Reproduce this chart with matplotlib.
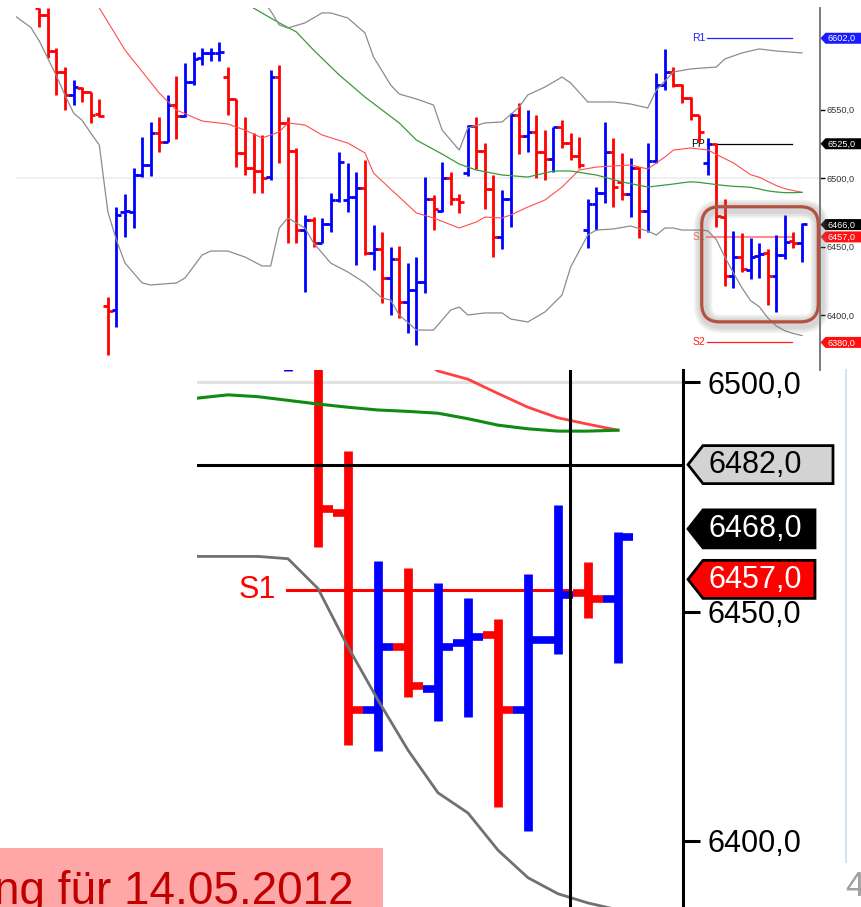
import matplotlib
matplotlib.use("Agg")
import matplotlib.pyplot as plt
from matplotlib.patches import Polygon, FancyBboxPatch, Rectangle

plt.rcParams['font.family'] = ['Liberation Sans', 'DejaVu Sans']

# ---- OHLC bars (index 0..89) ----
opens = [6624, 6619, 6592.7, 6577.4, 6560.6, 6565.7, 6562.8, 6546.5, 6406.6, 6403.6,
         6475.5, 6475.2, 6502.2, 6509.5, 6532.9, 6526.3, 6553.3, 6545.3, 6570, 6587.6,
         6591.3, 6591.5, 6573.7, 6557.7, 6518.3, 6507.3, 6505.1, 6500.7, 6573.7, 6540.2,
         6519.7, 6462, 6469.3, 6452.6, 6466.4, 6483.9, 6483.9, 6486.1, 6492.7, 6445.2,
         6448.2, 6427, 6440.9, 6409.5, 6418.2, 6424.1, 6484.7, 6475.9, 6500, 6484.7,
         6503.6, 6538, 6519.7, 6492, 6456.9, 6484.7, 6546, 6530.7, 6533.6, 6519,
         6513.9, 6537.2, 6525.5, 6516.1, 6462, 6481, 6489, 6519, 6497.1, 6488.3,
         6507.3, 6475.9, 6512.4, 6567.9, 6577.4, 6567.9, 6558.4, 6546, 6511, 6525,
         6471.5, 6428.5, 6442.3, 6433.1, 6443.1, 6444.9, 6428.5, 6443.8, 6454, 6452.7]
highs = [6624, 6624, 6595, 6581, 6571.5, 6566.4, 6562.8, 6557.7, 6413.1, 6478.8,
         6488.3, 6507.3, 6529.9, 6540.9, 6544.5, 6560.6, 6574.5, 6584, 6592, 6594.9,
         6594.9, 6599.3, 6581, 6557.7, 6544.5, 6532.9, 6531.4, 6578.8, 6582.5, 6544.5,
         6521.9, 6473, 6471.5, 6470.8, 6489, 6519, 6511, 6504.4, 6513.1, 6465.7,
         6460.6, 6449.6, 6450.4, 6438, 6442.3, 6500.7, 6487.6, 6511.7, 6504.4, 6488.3,
         6538.7, 6544.5, 6525.5, 6502.2, 6491.2, 6547.5, 6554.8, 6549.6, 6546, 6535,
         6537.2, 6542.3, 6532.9, 6529.9, 6484.7, 6493.4, 6540.9, 6529.2, 6518.3, 6514.6,
         6508, 6525.5, 6576.7, 6594.2, 6581, 6568.6, 6559.1, 6546, 6529.2, 6525.5,
         6485, 6461, 6459.5, 6456.2, 6452.9, 6448.4, 6458.2, 6473.2, 6460.8, 6467.3]
lows = [6610, 6587.6, 6560.6, 6549.6, 6553.3, 6555.5, 6540.2, 6544.5, 6370.8, 6391.2,
        6456.9, 6463.5, 6500.7, 6501.5, 6519, 6526.3, 6528.5, 6544.5, 6567.9, 6582.5,
        6585.4, 6585.4, 6546, 6508, 6502.2, 6489, 6489, 6498.5, 6511, 6452.6,
        6452.6, 6416.8, 6449.6, 6452.6, 6460.6, 6482.5, 6475.2, 6436.4, 6443.8, 6432.8,
        6408.8, 6400, 6397.8, 6386.9, 6378.1, 6416.1, 6462, 6475.2, 6480.3, 6474.5,
        6501.5, 6506.6, 6477.4, 6442.3, 6448.2, 6464.2, 6517.5, 6519, 6500, 6498.5,
        6504.4, 6521.9, 6513.1, 6507.3, 6448.9, 6462, 6481.7, 6478.8, 6483.9, 6471.5,
        6456.2, 6460.6, 6511, 6564.3, 6566.4, 6554.8, 6542.3, 6526.3, 6502.5, 6464,
        6421, 6419.5, 6431.4, 6426.1, 6427, 6407.4, 6402.2, 6440.7, 6448.6, 6438.8]
closes = [6619, 6592.7, 6577.4, 6560.6, 6566.4, 6562.8, 6546, 6545, 6402.9, 6473,
          6476, 6502.2, 6509.5, 6532.9, 6526.3, 6553.3, 6545.3, 6570, 6586.9, 6591.3,
          6591.5, 6591.8, 6557.7, 6518.3, 6507.3, 6505.1, 6500, 6573.7, 6540.2, 6519.7,
          6462, 6469.3, 6452.6, 6466.4, 6483.9, 6511.7, 6486.1, 6492.7, 6445.2, 6448.2,
          6427, 6440.9, 6409.5, 6418.2, 6424.1, 6484.7, 6477.4, 6500, 6484.7, 6482.5,
          6538, 6519.7, 6492, 6456.9, 6484.7, 6546, 6530.7, 6533.6, 6519, 6513.9,
          6537.2, 6525.5, 6516.1, 6509.5, 6481, 6489, 6519, 6493.4, 6488.3, 6507.3,
          6475.9, 6512.4, 6567.9, 6577.4, 6567.9, 6558.4, 6546, 6533.6, 6525, 6472.3,
          6428.5, 6442.3, 6433.8, 6442.3, 6444.4, 6428.5, 6443.8, 6453.6, 6452.7, 6466.2]

# ---- indicators (bar index, value) ----
red_ma_idx = [6, 7, 10, 14, 16, 19, 22, 24, 26, 28, 29, 31, 33, 36, 38, 39, 42, 44, 46, 49,
              51, 52, 54, 55, 57, 59, 61, 63, 65, 67, 69, 71, 73, 74, 76, 78, 81, 83, 84, 85,
              86, 87, 88, 89]
red_ma = [6640, 6624.1, 6593.4, 6562, 6549.6, 6541.6, 6539.4, 6535, 6529.2, 6533.6, 6540.2,
          6538.7, 6531.4, 6525.5, 6518.3, 6503.6, 6486.1, 6474.5, 6470.8, 6463.5, 6467.9,
          6471.5, 6470.8, 6473, 6478.8, 6483.9, 6493.4, 6505.8, 6508, 6508.8, 6509.5,
          6506.6, 6515.3, 6520.4, 6521.9, 6520.4, 6511, 6502.4, 6500.6, 6497.5, 6494.5,
          6492.2, 6490.8, 6489.5]
green_ma_idx = [24, 25, 28, 30, 32, 35, 38, 42, 44, 47, 49, 51, 54, 57, 60, 62, 65, 68, 71,
                74, 75, 76, 77, 78, 79, 80, 81, 82, 83, 84, 85, 86, 87, 88, 89]
green_ma = [6635, 6624, 6613.2, 6606.6, 6593.4, 6575.2, 6559.1, 6540.2, 6527.7, 6517.5,
            6510.2, 6505.8, 6502.2, 6500.7, 6505.1, 6505.1, 6502.2, 6497.1, 6493.4, 6495.6,
            6496.5, 6497.2, 6496.8, 6496, 6495.2, 6494.5, 6493.9, 6493.6, 6493.2, 6492,
            6490.6, 6489.8, 6489.3, 6489.3, 6489.5]
upper_idx = [26, 27, 28, 29, 31, 33, 34, 36, 38, 39, 41, 42, 44, 46, 47, 49, 50, 52, 54, 56,
             57, 59, 61, 62, 64, 67, 69, 71, 72, 74, 76, 79, 80, 82, 84, 86, 89]
upper = [6630, 6622, 6611.7, 6609.5, 6613.2, 6620.5, 6620.5, 6616.8, 6605.9, 6588.3,
         6567.9, 6561.3, 6557.7, 6553.3, 6535, 6520.4, 6536.5, 6540.2, 6540.9, 6551.8,
         6560.6, 6566.4, 6573.7, 6569.4, 6555.5, 6555.5, 6554, 6551.1, 6564.2, 6577.4,
         6579.6, 6581, 6586.9, 6591.3, 6594.2, 6592.7, 6591.3]
lower_idx = [-3, -1, 0, 2, 3, 4, 5, 6, 7, 8, 9, 10, 12, 13, 16, 17, 19, 20, 22, 24, 26, 27,
             28, 29, 31, 32, 34, 36, 38, 40, 41, 42, 44, 46, 48, 49, 50, 52, 54, 55, 57, 59,
             61, 62, 64, 65, 67, 69, 71, 72, 73, 74, 75, 76, 77, 78, 79, 80, 81, 82, 83, 84,
             85, 86, 87, 88, 89]
lower = [6619, 6610, 6600, 6574.5, 6560.4, 6547.4, 6542, 6532.9, 6524.1, 6475.2, 6454.7,
         6437.9, 6423.4, 6421.9, 6423.4, 6427, 6443.8, 6446.7, 6446.7, 6442.3, 6435.8,
         6435.8, 6463.5, 6470.8, 6463.5, 6452.6, 6437.9, 6431.4, 6423.4, 6412.4, 6410.9,
         6400, 6389, 6389, 6403.6, 6405.8, 6400, 6401.5, 6401.5, 6397.1, 6394.9, 6402.2,
         6414.6, 6435, 6458.4, 6462, 6462.8, 6465, 6461.3, 6458.4, 6463.5, 6463.5, 6462,
         6462, 6462, 6461.5, 6455, 6442.3, 6430.7, 6419.8, 6410.5, 6406.1, 6398, 6392,
         6388.5, 6386.5, 6385]

# pivot levels
pivot_names = ['R1', 'PP', 'S1', 'S2']
pivot_values = [6602, 6525, 6457, 6380]
pivot_colors = ['#2020ff', '#000000', '#ff6060', '#ff2020']
top_tag_values = [6602, 6525, 6466, 6457, 6380]
top_tag_colors = ['#1a1aff', '#000000', '#000000', '#ff1010', '#ff1010']
zoom_tag_values = [6482, 6468, 6457]
zoom_tag_faces = ['#d3d3d3', '#000000', '#ff0000']
zoom_tag_text = ['#000000', '#ffffff', '#ffffff']
zoom_s1_drawn = 6454.7
cursor_idx, cursor_price = 87.4, 6482

RED, BLUE = '#ff0000', '#0000ff'
W, H = 861, 907


def comma(v):
    return f"{v:.1f}".replace('.', ',')


fig = plt.figure(figsize=(W / 100, H / 100), dpi=100)


def px_axes(left, top, right, bottom, **kw):
    return fig.add_axes([left / W, 1 - bottom / H, (right - left) / W, (bottom - top) / H], **kw)


ax = px_axes(16, 8, 820, 370, zorder=1)
ax2 = px_axes(197, 370, 683, 907, zorder=2)
ov = fig.add_axes([0, 0, 1, 1], zorder=3)
ov.set_xlim(0, W)
ov.set_ylim(H, 0)
ov.axis('off')
ov.patch.set_alpha(0)

ax.set_xlim(-2.72, 91.1)
ax.set_ylim(6500 - 192 / 1.37, 6500 + 170 / 1.37)
ax2.set_xlim(74.967, 91.167)
ax2.set_ylim(6500 - 525 / 4.59, 6500 + 12 / 4.59)


def draw_bars(a, lw_bar, lw_tick, tick):
    for i, (o, h, l, c) in enumerate(zip(opens, highs, lows, closes)):
        col = BLUE if c >= o else RED
        a.plot([i, i], [l, h], color=col, lw=lw_bar, solid_capstyle='butt', zorder=2)
        a.plot([i - tick, i], [o, o], color=col, lw=lw_tick, solid_capstyle='butt', zorder=2)
        a.plot([i, i + tick], [c, c], color=col, lw=lw_tick, solid_capstyle='butt', zorder=2)


# ---------- top chart ----------
for s in ['top', 'left', 'bottom']:
    ax.spines[s].set_visible(False)
ax.spines['right'].set_color('#707070')
ax.spines['right'].set_linewidth(1.3)
ax.set_xticks([])
ax.yaxis.tick_right()
ax.set_yticks([6400, 6450, 6500, 6550])
ax.set_yticklabels([comma(v) for v in [6400, 6450, 6500, 6550]])
ax.tick_params(axis='y', length=3.5, width=1, pad=1.2, labelsize=6.6, labelcolor='#333333')
ax.axhline(6500, color='#ececec', lw=1.2, zorder=0)

draw_bars(ax, 2.0, 2.0, 0.55)
ax.plot(red_ma_idx, red_ma, color='#ff4d4d', lw=0.8, zorder=3)
ax.plot(green_ma_idx, green_ma, color='#3a9a3a', lw=0.9, zorder=3)
ax.plot(upper_idx, upper, color='#8c8c8c', lw=0.9, zorder=3)
ax.plot(lower_idx, lower, color='#8c8c8c', lw=0.9, zorder=3)

for name, val, col in zip(pivot_names, pivot_values, pivot_colors):
    ax.plot([77.9, 87.8], [val, val], color=col, lw=1.5 if name == 'S1' else 0.9,
            alpha=0.7 if name == 'S1' else 1, zorder=1.5)
    ax.text(77.7, val, name, color=col, fontsize=7.5, ha='right', va='center', zorder=1.5)

# ---------- zoomed chart ----------
ax2.set_facecolor('white')
for s in ['top', 'left', 'bottom']:
    ax2.spines[s].set_visible(False)
ax2.spines['right'].set_color('black')
ax2.spines['right'].set_linewidth(2.2)
ax2.set_xticks([])
ax2.yaxis.tick_right()
ax2.set_yticks([6400, 6450, 6500])
ax2.set_yticklabels([comma(v) for v in [6400, 6450, 6500]])
ax2.tick_params(axis='y', length=12, width=2.2, pad=5.5, labelsize=22, labelcolor='black')
ax2.axhline(6500, color='#e2e2e2', lw=2.3, zorder=0)

draw_bars(ax2, 6.3, 5.5, 0.5)
ax2.plot(red_ma_idx, red_ma, color='#ff2020', lw=2.0, alpha=0.85, zorder=3)
ax2.plot(green_ma_idx, green_ma, color='#108a10', lw=2.2, zorder=3)
ax2.plot(lower_idx, lower, color='#707070', lw=2.0, zorder=3)

ax2.plot([77.97, cursor_idx], [zoom_s1_drawn, zoom_s1_drawn], color='red', lw=2.2, zorder=1.5)
ax2.text(77.6, zoom_s1_drawn, 'S1', color='red', fontsize=22, ha='right', va='center')
ax2.axhline(cursor_price, color='black', lw=2.2, zorder=5)
ax2.axvline(cursor_idx, color='black', lw=2.2, zorder=5)


# ---------- overlay: tags, box, slide bits ----------
def py(a, v):
    return H - a.transData.transform((0, v))[1]


def px(a, i):
    return a.transData.transform((i, 0))[0]


def tag(x0, y, w, h, head, face, label, tcol, fs, edge=None, lw=0.0, tx=7):
    pts = [(x0, y), (x0 + head, y - h / 2), (x0 + w, y - h / 2), (x0 + w, y + h / 2),
           (x0 + head, y + h / 2)]
    ov.add_patch(Polygon(pts, closed=True, fc=face, ec=edge or face, lw=lw, zorder=4))
    ov.text(x0 + tx, y + 0.5, label, color=tcol, fontsize=fs, ha='left', va='center', zorder=5)


for v, col in zip(top_tag_values, top_tag_colors):
    tag(820.5, py(ax, v), 42, 11, 5, col, comma(v), 'white', 6.6, tx=7)

for v, fc, tc, w in zip(zoom_tag_values, zoom_tag_faces, zoom_tag_text, [145, 127, 127]):
    tag(688, py(ax2, v), w, 38, 15, fc, comma(v), tc, 22, edge='black', lw=2, tx=20)

# highlight box around the last session
bx0, bx1 = px(ax, 77.3), px(ax, 90.9)
by0, by1 = py(ax, 6479), py(ax, 6395)
for k, lwk in enumerate([13, 10, 7]):
    ov.add_patch(FancyBboxPatch((bx0 + 1.5, by0 + 2), bx1 - bx0, by1 - by0,
                                boxstyle='round,pad=0,rounding_size=18', fc='none',
                                ec='#808080', lw=lwk, alpha=0.12, zorder=6))
ov.add_patch(FancyBboxPatch((bx0, by0), bx1 - bx0, by1 - by0,
                            boxstyle='round,pad=0,rounding_size=18', fc='none',
                            ec='#b4513f', lw=2.3, zorder=7))

ov.plot([846, 846], [370, 862], color='#d6e4f2', lw=1.5, zorder=2)
ov.add_patch(Rectangle((0, 848), 383, 59, fc='#ffa6a6', ec='none', zorder=8))
ov.text(353, 904, 'ng für 14.05.2012', color='#c00000', fontsize=33, ha='right',
        va='baseline', zorder=9)
ov.text(845, 887, '4', color='#a0a0a0', fontsize=25, ha='left', va='center', zorder=9)

fig.savefig('out.png', dpi=100)
